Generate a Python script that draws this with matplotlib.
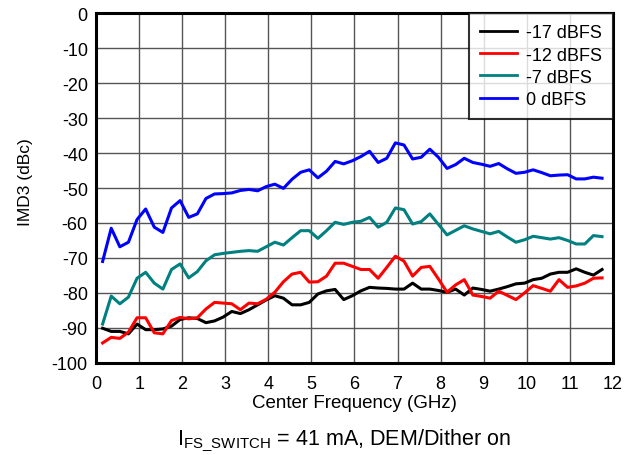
## IMD3 vs center frequency for four input levels (reference chart rebuild)

import numpy as np
import matplotlib.pyplot as plt

plt.rcParams['font.family'] = ['Liberation Sans', 'DejaVu Sans']
plt.rcParams['mathtext.default'] = 'regular'
plt.rcParams['axes.unicode_minus'] = False

freq = np.round(0.15 + 0.2*np.arange(59), 2)  # GHz, 200 MHz steps

imd_m17 = [-90.1, -91.0, -91.0, -91.7, -88.9, -90.5, -90.5, -90.3, -89.5, -87.6,
	-87.1, -87.3, -88.5, -88.0, -86.9, -85.3, -85.9, -84.8, -83.4, -82.0,
	-80.8, -81.5, -83.4, -83.4, -82.7, -80.3, -79.4, -79.0, -81.9, -80.8,
	-79.4, -78.4, -78.6, -78.7, -78.9, -78.9, -77.2, -78.9, -78.9, -79.3,
	-79.8, -78.9, -80.6, -78.6, -79.0, -79.5, -78.9, -78.2, -77.4, -77.2,
	-76.2, -75.8, -74.6, -74.1, -74.1, -73.1, -74.1, -74.9, -73.3]
imd_m12 = [-94.3, -92.7, -93.0, -91.2, -87.1, -87.1, -91.4, -91.7, -87.9, -87.0,
	-87.4, -87.1, -84.6, -82.7, -82.9, -83.1, -84.8, -82.9, -83.1, -81.8,
	-79.8, -76.8, -74.6, -74.1, -76.9, -76.8, -75.2, -71.5, -71.5, -72.4,
	-73.3, -73.3, -75.8, -72.7, -69.5, -70.9, -75.2, -72.7, -72.4, -76.0,
	-79.8, -77.7, -76.2, -80.6, -81.0, -81.5, -79.5, -80.7, -81.9, -80.0,
	-77.9, -78.7, -79.5, -76.2, -78.4, -78.0, -77.2, -75.8, -75.7]
imd_m7 = [-88.9, -80.9, -83.1, -81.2, -75.8, -74.1, -77.2, -78.9, -73.3, -71.7,
	-75.7, -73.9, -70.8, -69.1, -68.7, -68.4, -68.1, -67.9, -68.1, -66.8,
	-65.5, -66.3, -64.2, -62.2, -62.2, -64.4, -62.2, -59.8, -60.4, -59.8,
	-59.5, -58.4, -61.2, -59.8, -55.7, -56.2, -60.3, -59.6, -57.4, -60.4,
	-63.4, -62.1, -60.8, -61.7, -62.4, -63.1, -62.4, -64.0, -65.5, -64.8,
	-63.8, -64.2, -64.6, -64.2, -65.0, -66.0, -66.0, -63.6, -63.9]
imd_0 = [-71.0, -61.5, -66.8, -65.5, -59.0, -56.0, -61.2, -62.7, -55.7, -53.6,
	-58.4, -57.4, -53.0, -51.7, -51.6, -51.4, -50.7, -50.4, -50.8, -49.6,
	-48.9, -50.1, -47.5, -45.5, -44.8, -47.1, -45.2, -42.4, -43.1, -42.2,
	-41.0, -39.5, -42.7, -41.5, -37.1, -37.7, -41.7, -41.2, -38.9, -41.2,
	-44.4, -43.3, -41.5, -42.7, -43.2, -43.8, -43.0, -44.5, -45.8, -45.5,
	-44.8, -45.6, -46.5, -46.3, -46.2, -47.4, -47.4, -46.9, -47.2]

labels = ["-17 dBFS", "-12 dBFS", "-7 dBFS", "0 dBFS"]
colors = ["black", "red", "#008080", "blue"]

fig = plt.figure(figsize=(6.41, 4.56), dpi=100)
ax = fig.add_axes([0.150, 0.202, 0.806, 0.767])

for y, lab, c in zip([imd_m17, imd_m12, imd_m7, imd_0], labels, colors):
	ax.plot(freq, y, color=c, lw=2.2, label=lab)

ax.set_xlim(0, 12)
ax.set_ylim(-100, 0)
ax.set_xticks(np.arange(0, 13, 1))
ax.set_yticks(np.arange(-100, 1, 10))
ax.grid(True, color='#555555', lw=1.0)
ax.tick_params(length=0, labelsize=13)
ax.tick_params(axis='x', pad=9)
ax.tick_params(axis='y', pad=6)
for s in ax.spines.values():
	s.set_linewidth(2.2)
	s.set_color('black')

ax.set_xlabel("Center Frequency (GHz)", fontsize=13.5, labelpad=1)
ax.set_ylabel("IMD3 (dBc)", fontsize=12.5)
ax.yaxis.set_label_coords(-0.122, 0.52)

leg = ax.legend(loc='upper right', fontsize=13, frameon=True, fancybox=False,
	borderaxespad=0, handlelength=2.0, handletextpad=0.5, labelspacing=0.29,
	borderpad=0.62)
leg.get_frame().set_edgecolor('black')
leg.get_frame().set_linewidth(1.5)
for line in leg.get_lines():
	line.set_linewidth(2.0)

fig.text(0.537, 0.024, r"I$_{FS\_SWITCH}$ = 41 mA, DEM/Dither on", ha='center',
	va='baseline', fontsize=15.5)

fig.savefig("out.png", dpi=100)
